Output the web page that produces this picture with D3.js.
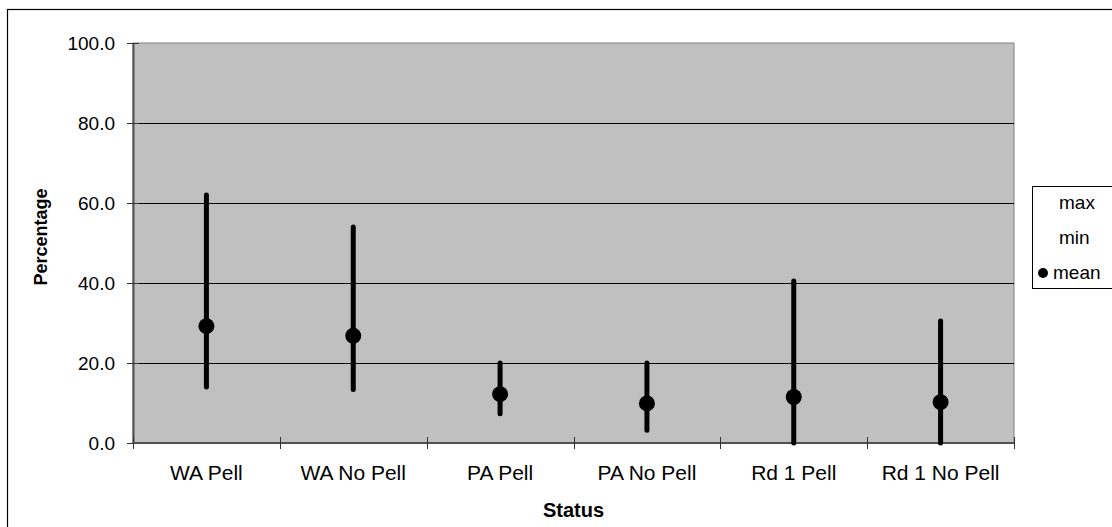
<!DOCTYPE html>
<html>
<head>
<meta charset="utf-8">
<script src="https://cdn.jsdelivr.net/npm/d3@7"></script>
<style>
  html, body { margin: 0; padding: 0; background: #fff; }
  svg { display: block; font-family: "Liberation Sans", Arial, sans-serif; }
</style>
</head>
<body>
<svg id="chart" width="1112" height="527"></svg>
<script>
// Category labels along the x axis
const categories = ["WA Pell", "WA No Pell", "PA Pell", "PA No Pell", "Rd 1 Pell", "Rd 1 No Pell"];
// High-low-mean series (percentage)
const maxValues  = [62.0, 54.0, 20.0, 20.0, 40.5, 30.5];
const minValues  = [14.0, 13.4, 7.3, 3.2, 0.0, 0.0];
const meanValues = [29.2, 26.8, 12.2, 9.9, 11.5, 10.2];
// Value axis ticks
const yTicks = [0, 20, 40, 60, 80, 100];
const legendLabels = ["max", "min", "mean"];

const svg = d3.select("#chart");
const plot = { left: 133, top: 43, right: 1014, bottom: 443 };

// Outer chart frame
svg.append("rect")
  .attr("x", 7.5).attr("y", 9.5)
  .attr("width", 1120).attr("height", 540)
  .attr("fill", "#fff").attr("stroke", "#000").attr("stroke-width", 1.2);

const x = d3.scaleBand().domain(categories).range([plot.left, plot.right]).padding(0);
const y = d3.scaleLinear().domain([0, 100]).range([plot.bottom, plot.top]);

// Plot area background
svg.append("rect")
  .attr("x", plot.left).attr("y", plot.top)
  .attr("width", plot.right - plot.left).attr("height", plot.bottom - plot.top)
  .attr("fill", "#c0c0c0").attr("stroke", "#808080").attr("stroke-width", 1);

// Horizontal gridlines
svg.append("g").selectAll("line")
  .data(yTicks.filter(t => t > 0 && t < 100))
  .join("line")
  .attr("x1", plot.left).attr("x2", plot.right)
  .attr("y1", d => Math.round(y(d)) + 0.5).attr("y2", d => Math.round(y(d)) + 0.5)
  .attr("stroke", "#000").attr("stroke-width", 1);

// Y axis
const yAxis = svg.append("g")
  .attr("transform", `translate(${plot.left},0)`)
  .call(d3.axisLeft(y).tickValues(yTicks).tickFormat(d3.format(".1f")).tickSizeInner(6).tickSizeOuter(0).tickPadding(12));
yAxis.select(".domain").attr("stroke", "#505050").attr("stroke-width", 2);
yAxis.selectAll(".tick line").attr("x2", 6).attr("x1", -6).attr("stroke", "#333");
yAxis.selectAll(".tick text").attr("font-size", 19).attr("fill", "#000")
  .attr("font-family", "'Liberation Sans', Arial, sans-serif");

// X axis with ticks at category boundaries
const xAxisG = svg.append("g").attr("transform", `translate(0,${plot.bottom})`);
xAxisG.append("line")
  .attr("x1", plot.left).attr("x2", plot.right)
  .attr("stroke", "#505050").attr("stroke-width", 2);
const boundaries = categories.map(c => x(c)).concat([x(categories[categories.length - 1]) + x.bandwidth()]);
xAxisG.selectAll("line.tk").data(boundaries).join("line")
  .attr("class", "tk")
  .attr("x1", d => Math.round(d) + 0.5).attr("x2", d => Math.round(d) + 0.5)
  .attr("y1", -6).attr("y2", 6)
  .attr("stroke", "#333").attr("stroke-width", 1);
xAxisG.selectAll("text").data(categories).join("text")
  .attr("x", d => x(d) + x.bandwidth() / 2)
  .attr("y", 37)
  .attr("text-anchor", "middle")
  .attr("font-size", 21)
  .text(d => d);

// High-low lines
const cx = d => x(d) + x.bandwidth() / 2;
svg.append("g").selectAll("line").data(categories).join("line")
  .attr("x1", cx).attr("x2", cx)
  .attr("y1", (d, i) => y(minValues[i]))
  .attr("y2", (d, i) => y(maxValues[i]))
  .attr("stroke", "#000").attr("stroke-width", 5).attr("stroke-linecap", "round");

// Mean markers
svg.append("g").selectAll("circle").data(categories).join("circle")
  .attr("cx", cx)
  .attr("cy", (d, i) => y(meanValues[i]))
  .attr("r", 8)
  .attr("fill", "#000");

// Axis titles
svg.append("text")
  .attr("x", (plot.left + plot.right) / 2).attr("y", 517)
  .attr("text-anchor", "middle").attr("font-weight", "bold").attr("font-size", 20)
  .text("Status");
svg.append("text")
  .attr("transform", `translate(47,${(plot.top + plot.bottom) / 2 - 6}) rotate(-90)`)
  .attr("text-anchor", "middle").attr("font-weight", "bold").attr("font-size", 18)
  .text("Percentage");

// Legend
const legend = svg.append("g");
legend.append("rect")
  .attr("x", 1032.5).attr("y", 186.5).attr("width", 100).attr("height", 102)
  .attr("fill", "#fff").attr("stroke", "#000").attr("stroke-width", 1);
const legendY = [209, 244, 279];
legend.selectAll("text").data(legendLabels).join("text")
  .attr("x", (d, i) => i === 2 ? 1053 : 1059)
  .attr("y", (d, i) => legendY[i])
  .attr("font-size", 19)
  .text(d => d);
legend.append("circle")
  .attr("cx", 1043).attr("cy", 273).attr("r", 5).attr("fill", "#000");
</script>
</body>
</html>
